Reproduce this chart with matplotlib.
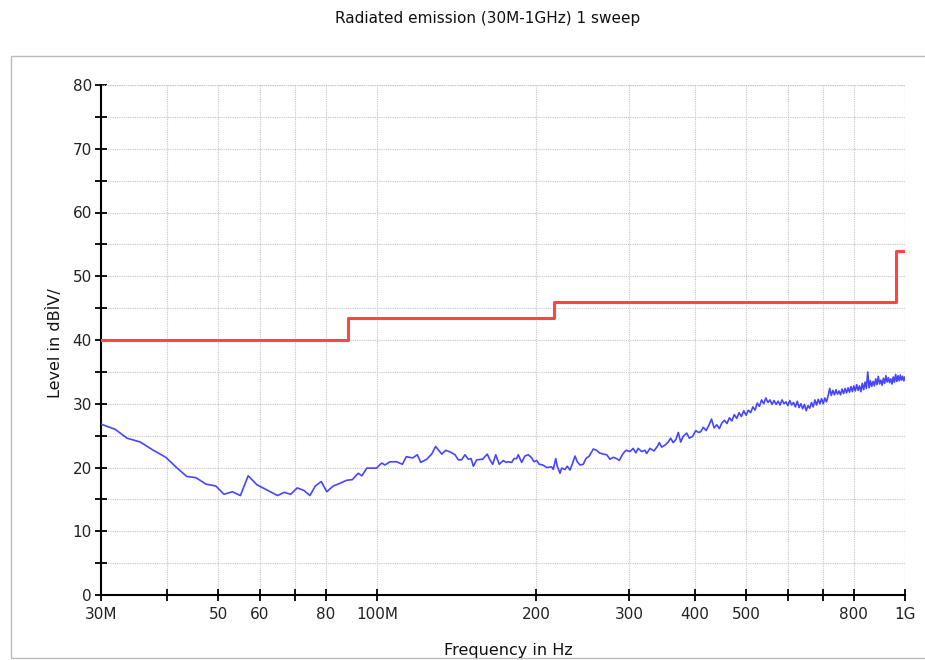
import matplotlib
matplotlib.use("Agg")
import matplotlib.pyplot as plt
from matplotlib.patches import Rectangle
from matplotlib.ticker import FixedLocator, NullLocator, FixedFormatter

# Limit line (dBµV/m) as a step function over frequency (MHz)
limit_freq = [30, 88, 88, 216, 216, 960, 960, 1000]
limit_level = [40, 40, 43.5, 43.5, 46, 46, 54, 54]

# Measured sweep, 30 MHz - 406 MHz
scan_freq = [
    30.0, 31.9, 33.6, 35.6, 37.7, 39.8, 41.7, 43.6, 45.4, 47.4, 49.5, 51.3,
    53.2, 55.1, 57.0, 59.2, 61.8, 64.8, 66.7, 68.6, 70.6, 72.7, 74.6, 76.4,
    78.4, 80.3, 82.6, 84.4, 87.6, 89.8, 92.1, 93.6, 95.6, 99.8, 102.0, 103.5,
    105.8, 108.9, 111.7, 113.6, 116.8, 119.2, 121.0, 124.2, 126.9, 129.1,
    132.6, 134.9, 137.9, 140.5, 142.5, 144.6, 146.7, 148.9, 150.7, 152.2,
    154.4, 158.5, 161.7, 163.6, 165.6, 167.8, 170.4, 173.4, 175.4, 177.2,
    179.9, 181.7, 183.8, 185.1, 187.9, 190.6, 193.4, 196.3, 198.3, 200.6,
    202.9, 206.0, 209.6, 214.2, 215.7, 218.0, 219.5, 222.1, 223.7, 227.0,
    229.2, 232.0, 234.7, 237.1, 239.5, 242.3, 245.8, 248.7, 252.3, 256.8,
    260.6, 263.6, 268.2, 272.3, 276.1, 280.2, 284.3, 287.6, 291.9, 296.1,
    301.3, 305.6, 309.2, 312.3, 317.0, 321.7, 324.1, 328.8, 334.6, 339.5,
    342.5, 346.0, 351.0, 356.1, 359.8, 363.9, 368.2, 372.0, 375.9, 380.2,
    385.9, 390.4, 396.2, 401.5, 406.1,
]
scan_level = [
    26.8, 26.0, 24.6, 24.0, 22.7, 21.6, 20.0, 18.6, 18.4, 17.4, 17.1, 15.8,
    16.2, 15.6, 18.7, 17.3, 16.5, 15.6, 16.1, 15.8, 16.8, 16.4, 15.6, 17.1,
    17.8, 16.2, 17.1, 17.4, 18.0, 18.1, 19.1, 18.7, 19.9, 19.9, 20.7, 20.4,
    20.9, 20.9, 20.5, 21.7, 21.5, 22.0, 20.8, 21.3, 22.1, 23.3,
    22.1, 22.7, 22.4, 22.0, 21.2, 21.2, 22.0, 21.3, 21.4, 20.2,
    21.2, 21.3, 22.1, 21.2, 20.5, 22.0, 20.5, 21.1, 20.8, 20.9,
    20.8, 21.4, 21.4, 22.0, 20.8, 21.8, 22.0, 21.5, 20.9, 21.1,
    20.5, 20.4, 20.0, 20.1, 19.7, 21.4, 20.2, 19.1, 19.9, 19.7,
    20.2, 19.6, 20.7, 21.8, 20.9, 20.4, 20.5, 21.4, 21.8, 22.9,
    22.7, 22.3, 22.1, 22.0, 21.3, 21.6, 21.4, 21.1, 22.1, 22.7,
    22.5, 23.0, 22.3, 23.0, 22.5, 22.7, 22.2, 23.0, 22.6, 23.3,
    23.9, 23.2, 23.5, 24.0, 24.6, 23.9, 24.4, 25.5, 24.0, 24.9,
    25.4, 24.6, 24.9, 25.8, 25.5,
]

# Measured sweep, 410 MHz - 1 GHz (5 MHz grid)
scan_freq_hi = list(range(410, 1001, 5))
scan_level_hi = [
    25.6, 26.3, 25.8, 26.6, 27.6, 26.2, 26.7, 26.1, 27.0, 27.4,
    26.9, 27.8, 27.3, 28.3, 27.7, 28.6, 28.0, 28.9, 28.2, 29.0,
    28.6, 29.5, 29.0, 30.1, 29.6, 30.6, 30.0, 30.9, 30.2, 30.6,
    29.9, 30.5, 29.9, 30.4, 29.8, 30.6, 30.0, 30.3, 29.7, 30.5,
    29.8, 30.2, 29.5, 30.4, 29.4, 30.0, 29.2, 29.9, 28.9, 29.7,
    29.3, 30.2, 29.5, 30.6, 29.8, 30.7, 30.0, 30.8, 30.0, 30.9,
    30.3, 31.2, 32.4, 31.3, 32.1, 31.4, 32.2, 31.5, 32.0, 31.4,
    32.3, 31.6, 32.4, 31.7, 32.5, 31.8, 32.7, 31.9, 32.8, 32.0,
    33.0, 32.1, 32.8, 31.9, 33.2, 32.2, 33.4, 32.4, 35.0, 32.5,
    33.6, 32.7, 33.5, 32.8, 33.9, 33.0, 34.3, 33.1, 33.7, 32.9,
    34.0, 33.2, 34.4, 33.4, 34.1, 33.3, 33.9, 33.1, 34.2, 33.4,
    34.6, 33.5, 34.4, 33.6, 34.5, 33.7, 34.3, 33.6, 34.2,
]

x_ticks = [30, 40, 50, 60, 70, 80, 100, 200, 300, 400, 500, 600, 700, 800, 1000]
x_tick_labels = ["30M", "", "50", "60", "", "80", "100M", "200", "300",
                 "400", "500", "", "", "800", "1G"]
y_ticks = list(range(0, 81, 5))
y_tick_labels = [str(v) if v % 10 == 0 else "" for v in y_ticks]

GRID = "#c6c6c6"

W, H = 925, 660
fig = plt.figure(figsize=(W / 100, H / 100), dpi=100)
fig.patch.set_facecolor("white")

# Outer panel frame
fig.patches.append(Rectangle((11 / W, 2 / H), 1.0, (658 - 56) / H,
                             transform=fig.transFigure, fill=False,
                             edgecolor="#bcbcbc", linewidth=1.0))

ax = fig.add_axes([101 / W, 1 - 595 / H, (905 - 101) / W, (595 - 85) / H])
ax.set_xscale("log")
ax.set_xlim(30, 1000)
ax.set_ylim(0, 80)

freq_all = scan_freq + scan_freq_hi
level_all = scan_level + scan_level_hi
ax.plot(limit_freq, limit_level, color="#ff4444", linewidth=2.2, zorder=3)
ax.plot(freq_all, level_all, color="#4646ff", linewidth=1.2, zorder=4)

ax.xaxis.set_major_locator(FixedLocator(x_ticks))
ax.xaxis.set_major_formatter(FixedFormatter(x_tick_labels))
ax.xaxis.set_minor_locator(NullLocator())
ax.yaxis.set_major_locator(FixedLocator(y_ticks))
ax.yaxis.set_major_formatter(FixedFormatter(y_tick_labels))
ax.yaxis.set_minor_locator(NullLocator())

ax.grid(True, which="major", color=GRID, linestyle=(0, (1, 1)), linewidth=0.8)
ax.set_axisbelow(True)

for side in ("top", "right"):
    ax.spines[side].set_visible(False)
for side in ("left", "bottom"):
    ax.spines[side].set_linewidth(1.5)
    ax.spines[side].set_color("black")

ax.tick_params(axis="both", direction="inout", length=9, width=1.3,
               color="black", labelsize=11, labelcolor="#222222")
ax.tick_params(axis="x", pad=4)
ax.tick_params(axis="y", pad=2)

# Dotted frame along the top (80) and right (1 GHz) edges
ax.axhline(80, color=GRID, linestyle=(0, (1, 1)), linewidth=0.8, zorder=1)
ax.axvline(1000, color=GRID, linestyle=(0, (1, 1)), linewidth=0.8, zorder=1)

fig.text(488 / W, 1 - 19 / H, "Radiated emission (30M-1GHz) 1 sweep",
         ha="center", va="center", fontsize=11, color="#111111")
fig.text(55 / W, 1 - 343 / H, "Level in dBÌV/", rotation=90,
         ha="center", va="center", fontsize=11.5, color="#111111")
fig.text(508 / W, 1 - 650 / H, "Frequency in Hz",
         ha="center", va="center", fontsize=11.5, color="#111111")

fig.savefig("out.png", dpi=100)
